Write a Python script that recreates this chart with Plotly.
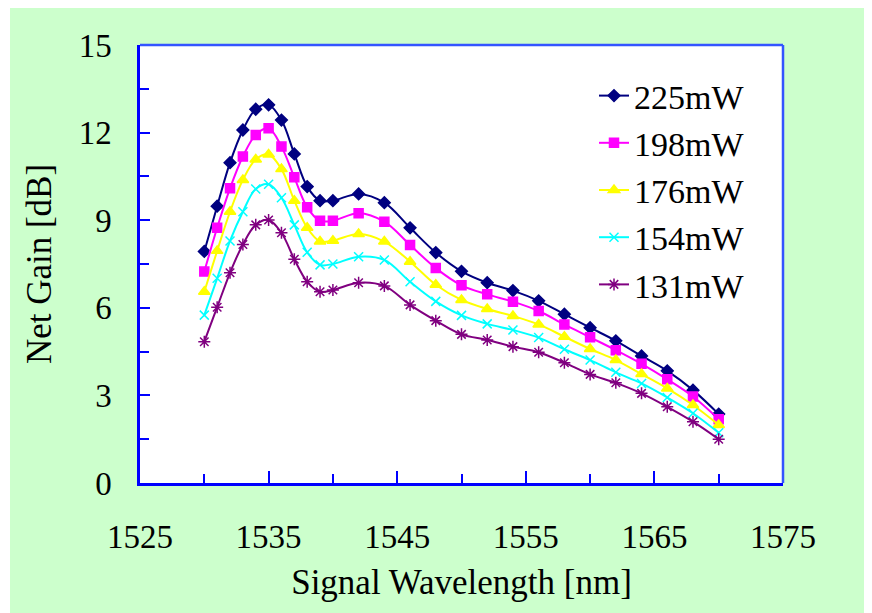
import plotly.graph_objects as go

wavelength = [1530, 1531, 1532, 1533, 1534, 1535, 1536, 1537, 1538, 1539, 1540,
              1542, 1544, 1546, 1548, 1550, 1552, 1554, 1556, 1558, 1560,
              1562, 1564, 1566, 1568, 1570]

gain_225 = [7.93, 9.48, 10.97, 12.09, 12.80, 12.95, 12.43, 11.27, 10.15, 9.67, 9.67,
            9.90, 9.60, 8.74, 7.89, 7.25, 6.86, 6.59, 6.24, 5.78, 5.32,
            4.87, 4.35, 3.84, 3.18, 2.36]
gain_198 = [7.24, 8.74, 10.09, 11.18, 11.92, 12.15, 11.52, 10.47, 9.44, 8.98, 8.98,
            9.24, 8.95, 8.15, 7.36, 6.77, 6.46, 6.21, 5.89, 5.43, 4.99,
            4.55, 4.08, 3.55, 2.96, 2.18]
gain_176 = [6.55, 7.95, 9.29, 10.38, 11.08, 11.25, 10.75, 9.67, 8.74, 8.27, 8.30,
            8.53, 8.27, 7.58, 6.79, 6.27, 5.96, 5.72, 5.43, 5.01, 4.59,
            4.21, 3.73, 3.24, 2.67, 1.99]
gain_154 = [5.75, 7.01, 8.29, 9.29, 10.07, 10.23, 9.77, 8.84, 7.90, 7.47, 7.50,
            7.75, 7.64, 6.89, 6.22, 5.74, 5.45, 5.24, 4.98, 4.58, 4.21,
            3.79, 3.41, 2.93, 2.39, 1.72]
gain_131 = [4.84, 6.02, 7.20, 8.17, 8.84, 9.01, 8.57, 7.66, 6.89, 6.55, 6.61,
            6.86, 6.75, 6.10, 5.56, 5.09, 4.90, 4.67, 4.48, 4.12, 3.72,
            3.43, 3.07, 2.61, 2.10, 1.50]

series_names = ["225mW", "198mW", "176mW", "154mW", "131mW"]
series_values = [gain_225, gain_198, gain_176, gain_154, gain_131]

x_ticks = [1525, 1535, 1545, 1555, 1565, 1575]
y_ticks = [0, 3, 6, 9, 12, 15]

colors = ["#000080", "#FF00FF", "#FFFF00", "#00FFFF", "#800080"]
symbols = ["diamond", "square", "triangle-up", "x-thin-open", "asterisk-open"]
msizes = [9, 9, 10, 9, 10]

FONT = "Liberation Serif"

fig = go.Figure()
for i, (name, vals) in enumerate(zip(series_names, series_values)):
    fig.add_trace(go.Scatter(
        x=wavelength, y=vals, name=name, mode="lines+markers",
        line=dict(color=colors[i], width=2, shape="spline", smoothing=1.0),
        marker=dict(symbol=symbols[i], size=msizes[i], color=colors[i],
                    line=dict(color=colors[i], width=1.5)),
    ))

# figure is placed 8px from the page's top-left corner
W, H = 872, 605
L, R, T, B = 132, 775, 37, 475
pw, ph = R - L, B - T

def px(xp):
    return (xp - L) / pw

def py(yp):
    return (B - yp) / ph

shapes = [
    dict(type="rect", xref="paper", yref="paper", layer="below",
         x0=px(2), x1=px(W + 5), y0=py(H + 5), y1=py(-1),
         fillcolor="#CCFFCC", line=dict(width=0)),
    dict(type="rect", xref="paper", yref="paper", layer="below",
         x0=0, x1=1, y0=0, y1=1, fillcolor="white", line=dict(width=0)),
    dict(type="line", xref="paper", yref="paper", x0=0, x1=1, y0=1, y1=1,
         line=dict(color="#3355FF", width=2.5)),
    dict(type="line", xref="paper", yref="paper", x0=1, x1=1, y0=0, y1=1,
         line=dict(color="#3355FF", width=2.5)),
]

fig.update_layout(
    width=W, height=H,
    margin=dict(l=L, r=W - R, t=T, b=H - B, autoexpand=False),
    paper_bgcolor="white", plot_bgcolor="white",
    font=dict(family=FONT, size=33, color="black"),
    shapes=shapes,
    showlegend=True,
    legend=dict(x=px(586), y=py(59), xanchor="left", yanchor="top",
                bgcolor="rgba(0,0,0,0)", font=dict(family=FONT, size=34),
                tracegroupgap=0, itemwidth=30),
    xaxis=dict(
        range=[1525, 1575], tickmode="array", tickvals=x_ticks,
        ticktext=[str(v) for v in x_ticks],
        showgrid=False, zeroline=False,
        showline=True, linecolor="#0000FF", linewidth=2.5,
        ticks="inside", ticklen=12, tickwidth=2, tickcolor="#0000FF",
        minor=dict(tickvals=[1530, 1540, 1550, 1560, 1570], ticks="inside",
                   ticklen=9, tickwidth=2, tickcolor="#0000FF", showgrid=False),
        tickfont=dict(family=FONT, size=33),
        ticklabelstandoff=23,
        title=dict(text="Signal Wavelength [nm]", font=dict(family=FONT, size=35),
                   standoff=16),
    ),
    yaxis=dict(
        range=[0, 15], tickmode="array", tickvals=y_ticks,
        ticktext=[str(v) for v in y_ticks],
        showgrid=False, zeroline=False,
        showline=True, linecolor="#0000FF", linewidth=2.5,
        ticks="inside", ticklen=10, tickwidth=2, tickcolor="#0000FF",
        minor=dict(tickvals=[1.5, 4.5, 7.5, 10.5, 13.5], ticks="inside",
                   ticklen=9, tickwidth=2, tickcolor="#0000FF", showgrid=False),
        tickfont=dict(family=FONT, size=33),
        ticklabelstandoff=19,
        title=dict(text="Net Gain [dB]", font=dict(family=FONT, size=35),
                   standoff=17),
    ),
)

fig.write_html("out.html")
